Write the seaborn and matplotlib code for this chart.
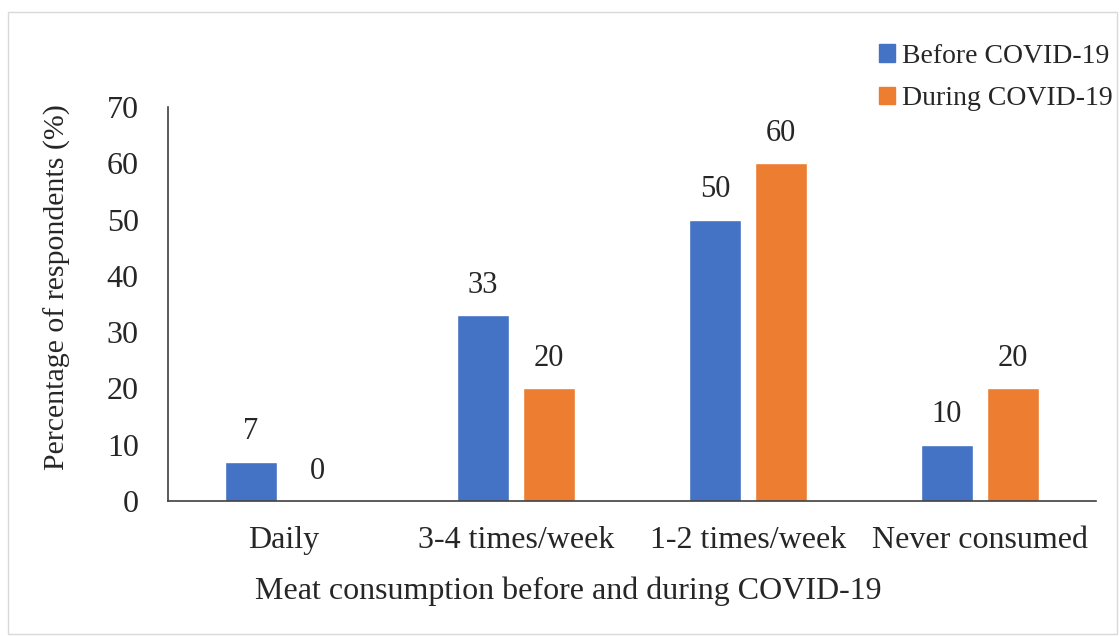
import matplotlib
matplotlib.use('Agg')
import matplotlib.pyplot as plt
import seaborn as sns
import pandas as pd
from matplotlib.patches import Rectangle

# 数据
categories = ['Daily', '3-4 times/week', '1-2 times/week', 'Never consumed']
before = [7, 33, 50, 10]
during = [0, 20, 60, 20]
series = ['Before COVID-19', 'During COVID-19']
colors = ['#4472C4', '#ED7D31']

df = pd.DataFrame({
    'cat': categories * 2,
    'val': before + during,
    'period': [series[0]] * 4 + [series[1]] * 4,
})

sns.set_style('white')
plt.rcParams['font.family'] = ['Liberation Serif', 'DejaVu Serif']

fig = plt.figure(figsize=(11.2, 6.36), dpi=100)
ax = fig.add_axes([0.15, 0.2123, 0.8286, 0.6195])

sns.barplot(data=df, x='cat', y='val', hue='period', palette=colors,
            width=0.57, gap=0.21, ax=ax, legend=False, saturation=1)

for cont in ax.containers:
    ax.bar_label(cont, fmt='%d', padding=11, fontsize=22)

ax.set_ylim(0, 70)
ax.set_yticks(range(0, 71, 10))
ax.set_xlim(-0.5, 3.5)
ax.set_xticks([-0.5, 0.5, 1.5, 2.5, 3.5], minor=False)
ax.set_xticklabels([])
ax.set_xticks(range(4), minor=True)
ax.set_xticklabels(categories, minor=True, fontsize=23)
ax.tick_params(axis='x', which='minor', length=0, pad=18)
ax.tick_params(axis='x', which='major', length=8, width=1.2, color='#404040', direction='in')
ax.tick_params(axis='y', length=8, width=1.2, color='#404040', labelsize=23, direction='out', pad=13)
ax.set_xlabel('Meat consumption before and during COVID-19', fontsize=23)
ax.xaxis.set_label_coords(0.431, -0.228, transform=ax.transAxes)
ax.xaxis.label.set_va('center')
ax.set_ylabel('Percentage of respondents (%)', fontsize=21.5)
ax.yaxis.set_label_coords(-0.104, 0.543, transform=ax.transAxes)

for s in ['top', 'right']:
    ax.spines[s].set_visible(False)
for s in ['left', 'bottom']:
    ax.spines[s].set_color('#404040')
    ax.spines[s].set_linewidth(1.2)

# 图例
handles = [Rectangle((0, 0), 1, 1, color=c) for c in colors]
fig.legend(handles, series, loc='upper right', bbox_to_anchor=(1.016, 0.97),
           frameon=False, fontsize=20, handlelength=0.6, handleheight=0.6,
           handletextpad=0.25, labelspacing=0.62)

# 外框
fig.patches.append(Rectangle((0.007, 0.003), 0.99, 0.978, transform=fig.transFigure,
                             fill=False, edgecolor='#d9d9d9', linewidth=1))

plt.savefig('out.png', dpi=100)
